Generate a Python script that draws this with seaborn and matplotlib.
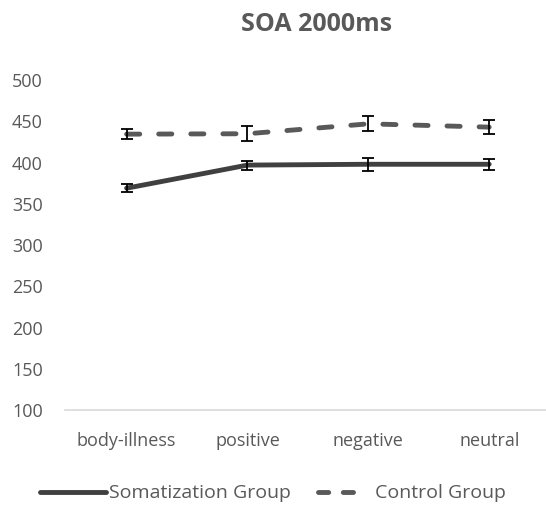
import pandas as pd
import matplotlib.pyplot as plt
import seaborn as sns

# values
conditions = ['body-illness', 'positive', 'negative', 'neutral']
somatization_rt = [369, 397, 398, 398]
somatization_err = [5, 5.5, 8, 6.5]
control_rt = [434.5, 435, 447, 443]
control_err = [6, 9, 9, 8.5]
groups = ['Somatization Group', 'Control Group']

df = pd.DataFrame({
    'condition': conditions * 2,
    'rt': somatization_rt + control_rt,
    'err': somatization_err + control_err,
    'group': [groups[0]] * 4 + [groups[1]] * 4,
})

sns.set_style('white')
plt.rcParams['font.family'] = ['Open Sans', 'DejaVu Sans']

fig = plt.figure(figsize=(5.46, 5.07), dpi=100)
ax = fig.add_axes([0.119, 0.191, 0.881, 0.651])

palette = {groups[0]: '#404040', groups[1]: '#595959'}
sns.lineplot(data=df, x='condition', y='rt', hue='group', style='group',
             palette=palette, dashes={groups[0]: '', groups[1]: (2.7, 3.9)},
             linewidth=3.5, sort=False, ax=ax, legend=False)
for line in ax.lines:
    line.set_dash_capstyle('round')
    line.set_solid_capstyle('round')

for g in groups:
    sub = df[df['group'] == g]
    ax.errorbar(range(len(sub)), sub['rt'], yerr=sub['err'], fmt='none',
                ecolor='black', elinewidth=1.3, capsize=4.5, capthick=1.3, zorder=5)

ax.set_ylim(100, 500)
ax.set_xlim(-0.51, 3.47)
ax.set_yticks(range(100, 501, 50))
ax.set_xlabel('')
ax.set_ylabel('')
for s in ['top', 'right', 'left']:
    ax.spines[s].set_visible(False)
ax.spines['bottom'].set_color('#d9d9d9')
ax.spines['bottom'].set_linewidth(1.2)
ax.tick_params(axis='y', length=0, pad=16, labelsize=13, labelcolor='#595959')
ax.tick_params(axis='x', length=0, pad=16, labelsize=13, labelcolor='#595959')

fig.text(0.579, 0.952, 'SOA 2000ms', ha='center', va='center',
         fontsize=18, fontweight='bold', color='#595959')

# legend: two separate entries so each handle keeps its own length
solid = plt.Line2D([], [], color='#404040', lw=3.5)
dashed = plt.Line2D([], [], color='#595959', lw=3.5, ls=(0, (2.1, 3.0)), dash_capstyle='round')
leg1 = fig.legend([solid], [groups[0]], loc='center left', bbox_to_anchor=(0.055, 0.027),
                  frameon=False, fontsize=14, labelcolor='#595959', handlelength=3.4,
                  handletextpad=0.15, borderpad=0)
leg2 = fig.legend([dashed], [groups[1]], loc='center left', bbox_to_anchor=(0.565, 0.027),
                  frameon=False, fontsize=14, labelcolor='#595959', handlelength=2.1,
                  handletextpad=0.8, borderpad=0)

fig.savefig('out.png', dpi=100)
